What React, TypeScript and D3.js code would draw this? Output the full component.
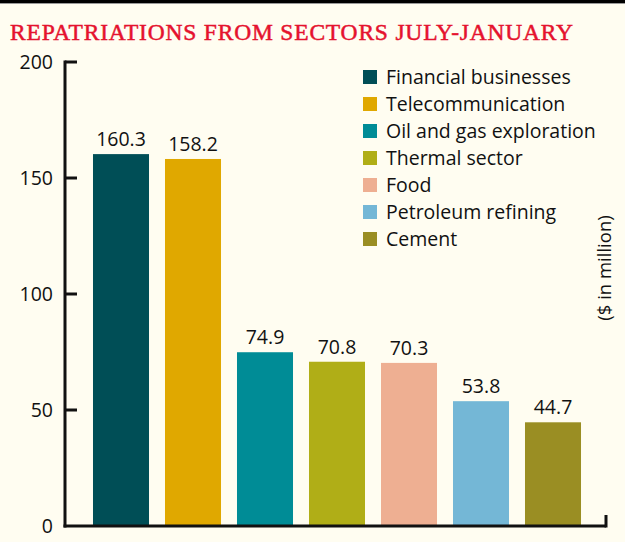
import React from "react";
import * as d3 from "d3";

const categories = [
  "Financial businesses",
  "Telecommunication",
  "Oil and gas exploration",
  "Thermal sector",
  "Food",
  "Petroleum refining",
  "Cement",
];
const values = [160.3, 158.2, 74.9, 70.8, 70.3, 53.8, 44.7];
const colors = ["#004E56", "#E0A800", "#008C96", "#B0AE17", "#EEAF92", "#74B7D6", "#9A8E23"];
const yTicks = [0, 50, 100, 150, 200];
const title = "REPATRIATIONS FROM SECTORS JULY-JANUARY";
const yLabel = "($ in million)";

const W = 625;
const H = 542;
const FONT = "'Open Sans', 'Noto Sans', sans-serif";

export default function App() {
  const y = d3.scaleLinear().domain([0, 200]).range([526, 62]);
  const x = d3
    .scaleBand<string>()
    .domain(categories)
    .range([85, 589])
    .paddingInner(0.222)
    .paddingOuter(0.111);
  const axisX = 65;
  const baseY = y(0);

  return (
    <svg
      width={W}
      height={H}
      style={{ position: "absolute", left: 0, top: 0, display: "block" }}
    >
      <rect x={0} y={0} width={W} height={H} fill="#FFFDF1" />
      <rect x={0} y={0} width={W} height={3} fill="#000" />
      <rect x={0} y={3} width={W} height={1} fill="#999" />
      <text
        x={10}
        y={40}
        fill="#E5122E"
        stroke="#E5122E"
        strokeWidth={0.5}
        fontFamily="'Liberation Serif', 'DejaVu Serif', serif"
        fontSize={23.5}
        textLength={563}
        lengthAdjust="spacing"
      >
        {title}
      </text>

      {/* bars */}
      {categories.map((c, i) => (
        <g key={c}>
          <rect
            x={x(c)}
            y={y(values[i])}
            width={x.bandwidth()}
            height={baseY - y(values[i])}
            fill={colors[i]}
          />
          <text
            x={(x(c) as number) + x.bandwidth() / 2}
            y={y(values[i]) - 8}
            textAnchor="middle"
            fontFamily={FONT}
            fontSize={19.5}
            fill="#111"
          >
            {values[i].toFixed(1)}
          </text>
        </g>
      ))}

      {/* axes */}
      <line x1={axisX} x2={axisX} y1={y(200) - 1.5} y2={baseY + 1.5} stroke="#111" strokeWidth={3} />
      <line x1={axisX - 1.5} x2={606} y1={baseY} y2={baseY} stroke="#111" strokeWidth={3} />
      <line x1={606} x2={606} y1={baseY + 1.5} y2={baseY - 11} stroke="#111" strokeWidth={3} />
      {yTicks.map((t) => (
        <g key={t}>
          {t > 0 && (
            <line x1={axisX} x2={77} y1={y(t)} y2={y(t)} stroke="#111" strokeWidth={3} />
          )}
          <text
            x={53}
            y={y(t)}
            dy="0.35em"
            textAnchor="end"
            fontFamily={FONT}
            fontSize={19.5}
            fill="#111"
          >
            {t}
          </text>
        </g>
      ))}

      {/* legend */}
      {categories.map((c, i) => {
        const cy = 77 + i * 27;
        return (
          <g key={"lg" + c}>
            <rect x={363} y={cy - 7} width={14} height={14} fill={colors[i]} />
            <text
              x={386}
              y={cy}
              dy="0.35em"
              fontFamily={FONT}
              fontSize={19.5}
              fill="#111"
            >
              {c}
            </text>
          </g>
        );
      })}

      <text
        transform={`translate(605, 268) rotate(-90)`}
        textAnchor="middle"
        dy="0.35em"
        fontFamily={FONT}
        fontSize={18.5}
        fill="#111"
      >
        {yLabel}
      </text>
    </svg>
  );
}
